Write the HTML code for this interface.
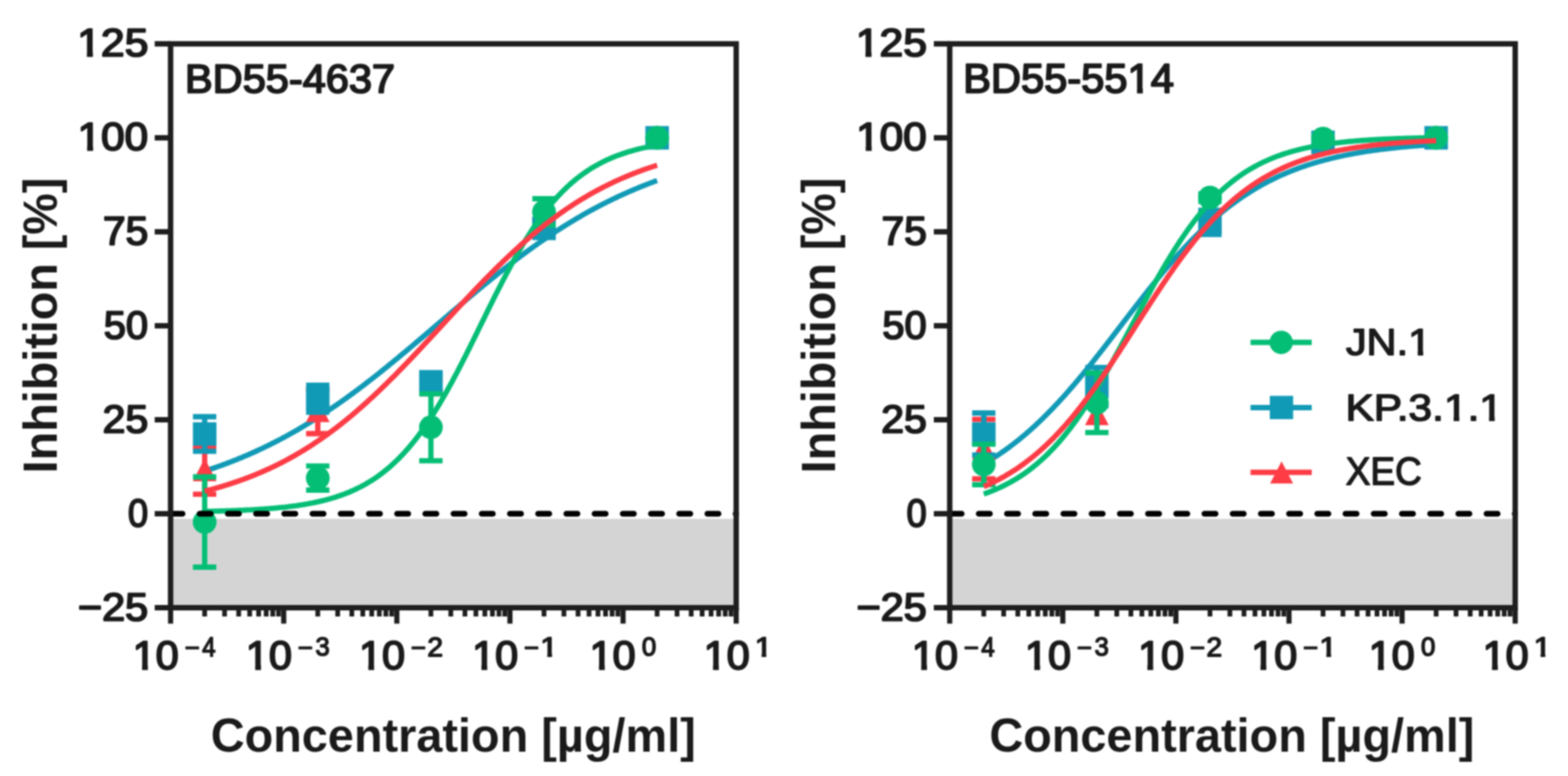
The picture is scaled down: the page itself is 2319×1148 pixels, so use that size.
<!DOCTYPE html>
<html><head><meta charset="utf-8"><style>
html,body{margin:0;padding:0;background:#fff;}
svg{display:block;}
#w{filter:blur(1.20px);width:2319px;height:1148px;overflow:hidden;}
text{font-family:'Liberation Sans',Arial,sans-serif;fill:#1a1a1a;}
</style></head><body><div id="w">
<svg width="2319" height="1148" viewBox="0 0 2319 1148">
<rect width="2319" height="1148" fill="#fff"/>
<rect x="252.3" y="767.5" width="836.5" height="131.5" fill="#d4d4d4"/>
<polyline points="302.66,696.95 304.89,696.23 307.12,695.50 309.35,694.76 311.58,694.01 313.82,693.26 316.05,692.49 318.28,691.72 320.51,690.94 322.74,690.16 324.97,689.36 327.20,688.56 329.43,687.74 331.66,686.92 333.89,686.09 336.12,685.26 338.35,684.41 340.58,683.55 342.81,682.69 345.04,681.81 347.28,680.93 349.51,680.04 351.74,679.14 353.97,678.23 356.20,677.31 358.43,676.39 360.66,675.45 362.89,674.50 365.12,673.55 367.35,672.58 369.58,671.61 371.81,670.63 374.04,669.63 376.27,668.63 378.50,667.62 380.74,666.60 382.97,665.56 385.20,664.52 387.43,663.47 389.66,662.41 391.89,661.34 394.12,660.26 396.35,659.17 398.58,658.07 400.81,656.96 403.04,655.85 405.27,654.72 407.50,653.58 409.73,652.43 411.96,651.27 414.20,650.10 416.43,648.92 418.66,647.73 420.89,646.53 423.12,645.32 425.35,644.10 427.58,642.87 429.81,641.63 432.04,640.38 434.27,639.12 436.50,637.85 438.73,636.57 440.96,635.28 443.19,633.98 445.42,632.67 447.66,631.34 449.89,630.01 452.12,628.67 454.35,627.32 456.58,625.96 458.81,624.59 461.04,623.21 463.27,621.81 465.50,620.41 467.73,619.00 469.96,617.58 472.19,616.15 474.42,614.71 476.65,613.26 478.88,611.79 481.12,610.32 483.35,608.84 485.58,607.35 487.81,605.85 490.04,604.34 492.27,602.83 494.50,601.30 496.73,599.76 498.96,598.21 501.19,596.66 503.42,595.09 505.65,593.52 507.88,591.93 510.11,590.34 512.34,588.74 514.58,587.13 516.81,585.51 519.04,583.88 521.27,582.24 523.50,580.60 525.73,578.94 527.96,577.28 530.19,575.61 532.42,573.93 534.65,572.25 536.88,570.55 539.11,568.85 541.34,567.14 543.57,565.42 545.80,563.70 548.04,561.97 550.27,560.23 552.50,558.48 554.73,556.73 556.96,554.97 559.19,553.20 561.42,551.43 563.65,549.64 565.88,547.86 568.11,546.06 570.34,544.27 572.57,542.46 574.80,540.65 577.03,538.83 579.26,537.01 581.50,535.18 583.73,533.35 585.96,531.51 588.19,529.67 590.42,527.82 592.65,525.97 594.88,524.12 597.11,522.26 599.34,520.39 601.57,518.52 603.80,516.65 606.03,514.77 608.26,512.89 610.49,511.01 612.72,509.13 614.96,507.24 617.19,505.35 619.42,503.45 621.65,501.55 623.88,499.66 626.11,497.75 628.34,495.85 630.57,493.95 632.80,492.04 635.03,490.13 637.26,488.23 639.49,486.32 641.72,484.41 643.95,482.50 646.18,480.58 648.42,478.67 650.65,476.76 652.88,474.85 655.11,472.94 657.34,471.03 659.57,469.12 661.80,467.21 664.03,465.30 666.26,463.39 668.49,461.49 670.72,459.58 672.95,457.68 675.18,455.78 677.41,453.88 679.64,451.99 681.88,450.09 684.11,448.20 686.34,446.31 688.57,444.43 690.80,442.55 693.03,440.67 695.26,438.79 697.49,436.92 699.72,435.05 701.95,433.19 704.18,431.33 706.41,429.47 708.64,427.62 710.87,425.78 713.10,423.93 715.34,422.10 717.57,420.27 719.80,418.44 722.03,416.62 724.26,414.80 726.49,412.99 728.72,411.19 730.95,409.39 733.18,407.60 735.41,405.81 737.64,404.03 739.87,402.26 742.10,400.50 744.33,398.74 746.56,396.98 748.80,395.24 751.03,393.50 753.26,391.77 755.49,390.05 757.72,388.33 759.95,386.62 762.18,384.92 764.41,383.23 766.64,381.54 768.87,379.87 771.10,378.20 773.33,376.54 775.56,374.89 777.79,373.24 780.02,371.61 782.26,369.98 784.49,368.36 786.72,366.75 788.95,365.15 791.18,363.56 793.41,361.98 795.64,360.41 797.87,358.84 800.10,357.29 802.33,355.74 804.56,354.21 806.79,352.68 809.02,351.16 811.25,349.66 813.48,348.16 815.72,346.67 817.95,345.19 820.18,343.72 822.41,342.26 824.64,340.81 826.87,339.37 829.10,337.94 831.33,336.52 833.56,335.11 835.79,333.72 838.02,332.33 840.25,330.95 842.48,329.58 844.71,328.22 846.94,326.87 849.18,325.53 851.41,324.20 853.64,322.88 855.87,321.57 858.10,320.27 860.33,318.98 862.56,317.70 864.79,316.43 867.02,315.18 869.25,313.93 871.48,312.69 873.71,311.46 875.94,310.24 878.17,309.03 880.40,307.84 882.64,306.65 884.87,305.47 887.10,304.30 889.33,303.15 891.56,302.00 893.79,300.86 896.02,299.73 898.25,298.62 900.48,297.51 902.71,296.41 904.94,295.32 907.17,294.25 909.40,293.18 911.63,292.12 913.86,291.07 916.10,290.03 918.33,289.00 920.56,287.98 922.79,286.97 925.02,285.97 927.25,284.98 929.48,284.00 931.71,283.03 933.94,282.06 936.17,281.11 938.40,280.16 940.63,279.23 942.86,278.30 945.09,277.39 947.32,276.48 949.56,275.58 951.79,274.69 954.02,273.81 956.25,272.94 958.48,272.08 960.71,271.22 962.94,270.38 965.17,269.54 967.40,268.71 969.63,267.89 971.86,267.08" fill="none" stroke="#119ab6" stroke-width="7.8" stroke-linejoin="round"/>
<path d="M302.7 662.1V731.1M285.4 662.1H319.9M285.4 731.1H319.9" stroke="#fd3c46" stroke-width="7.8" fill="none"/>
<polygon points="302.7,677.9 285.2,711.9 320.2,711.9" fill="#fd3c46"/>
<path d="M470.0 577.0V641.5M452.7 577.0H487.2M452.7 641.5H487.2" stroke="#fd3c46" stroke-width="7.8" fill="none"/>
<polygon points="470.0,590.6 452.5,624.6 487.5,624.6" fill="#fd3c46"/>
<path d="M637.3 562.6V579.3M620.0 562.6H654.5M620.0 579.3H654.5" stroke="#fd3c46" stroke-width="7.8" fill="none"/>
<polygon points="637.3,552.2 619.8,586.2 654.8,586.2" fill="#fd3c46"/>
<path d="M804.6 326.2V342.9M787.3 326.2H821.8M787.3 342.9H821.8" stroke="#fd3c46" stroke-width="7.8" fill="none"/>
<polygon points="804.6,315.9 787.1,349.9 822.1,349.9" fill="#fd3c46"/>
<polygon points="971.9,185.2 954.4,219.2 989.4,219.2" fill="#fd3c46"/>
<path d="M302.7 616.5V667.7M285.4 616.5H319.9M285.4 667.7H319.9" stroke="#119ab6" stroke-width="7.8" fill="none"/>
<rect x="285.3" y="624.7" width="34.8" height="34.8" fill="#119ab6"/>
<path d="M470.0 569.8V609.8M452.7 569.8H487.2M452.7 609.8H487.2" stroke="#119ab6" stroke-width="7.8" fill="none"/>
<rect x="452.6" y="572.4" width="34.8" height="34.8" fill="#119ab6"/>
<path d="M637.3 553.7V575.9M620.0 553.7H654.5M620.0 575.9H654.5" stroke="#119ab6" stroke-width="7.8" fill="none"/>
<rect x="619.9" y="547.4" width="34.8" height="34.8" fill="#119ab6"/>
<path d="M804.6 326.8V349.0M787.3 326.8H821.8M787.3 349.0H821.8" stroke="#119ab6" stroke-width="7.8" fill="none"/>
<rect x="787.2" y="320.5" width="34.8" height="34.8" fill="#119ab6"/>
<rect x="954.5" y="186.5" width="34.8" height="34.8" fill="#119ab6"/>
<path d="M302.7 705.5V839.0M285.4 705.5H319.9M285.4 839.0H319.9" stroke="#05be76" stroke-width="7.8" fill="none"/>
<circle cx="302.7" cy="772.2" r="17.6" fill="#05be76"/>
<path d="M470.0 689.4V725.0M452.7 689.4H487.2M452.7 725.0H487.2" stroke="#05be76" stroke-width="7.8" fill="none"/>
<circle cx="470.0" cy="707.2" r="17.6" fill="#05be76"/>
<path d="M637.3 582.6V681.6M620.0 582.6H654.5M620.0 681.6H654.5" stroke="#05be76" stroke-width="7.8" fill="none"/>
<circle cx="637.3" cy="632.1" r="17.6" fill="#05be76"/>
<path d="M804.6 294.0V332.9M787.3 294.0H821.8M787.3 332.9H821.8" stroke="#05be76" stroke-width="7.8" fill="none"/>
<circle cx="804.6" cy="313.4" r="17.6" fill="#05be76"/>
<circle cx="971.9" cy="203.9" r="17.6" fill="#05be76"/>
<polyline points="302.66,756.54 304.89,756.50 307.12,756.45 309.35,756.40 311.58,756.35 313.82,756.30 316.05,756.25 318.28,756.20 320.51,756.14 322.74,756.08 324.97,756.02 327.20,755.96 329.43,755.89 331.66,755.83 333.89,755.76 336.12,755.69 338.35,755.61 340.58,755.54 342.81,755.46 345.04,755.38 347.28,755.29 349.51,755.21 351.74,755.12 353.97,755.02 356.20,754.93 358.43,754.83 360.66,754.73 362.89,754.62 365.12,754.51 367.35,754.40 369.58,754.29 371.81,754.17 374.04,754.04 376.27,753.92 378.50,753.78 380.74,753.65 382.97,753.51 385.20,753.36 387.43,753.21 389.66,753.06 391.89,752.90 394.12,752.73 396.35,752.56 398.58,752.38 400.81,752.20 403.04,752.01 405.27,751.82 407.50,751.62 409.73,751.41 411.96,751.20 414.20,750.98 416.43,750.75 418.66,750.51 420.89,750.27 423.12,750.02 425.35,749.76 427.58,749.49 429.81,749.21 432.04,748.93 434.27,748.63 436.50,748.33 438.73,748.02 440.96,747.69 443.19,747.36 445.42,747.01 447.66,746.66 449.89,746.29 452.12,745.91 454.35,745.52 456.58,745.12 458.81,744.70 461.04,744.27 463.27,743.83 465.50,743.37 467.73,742.90 469.96,742.41 472.19,741.91 474.42,741.39 476.65,740.86 478.88,740.31 481.12,739.74 483.35,739.15 485.58,738.55 487.81,737.92 490.04,737.28 492.27,736.62 494.50,735.94 496.73,735.24 498.96,734.51 501.19,733.76 503.42,732.99 505.65,732.20 507.88,731.38 510.11,730.54 512.34,729.68 514.58,728.78 516.81,727.86 519.04,726.92 521.27,725.94 523.50,724.94 525.73,723.91 527.96,722.84 530.19,721.75 532.42,720.62 534.65,719.47 536.88,718.27 539.11,717.05 541.34,715.79 543.57,714.49 545.80,713.16 548.04,711.79 550.27,710.38 552.50,708.94 554.73,707.45 556.96,705.93 559.19,704.36 561.42,702.75 563.65,701.10 565.88,699.40 568.11,697.66 570.34,695.87 572.57,694.04 574.80,692.16 577.03,690.23 579.26,688.26 581.50,686.23 583.73,684.16 585.96,682.03 588.19,679.86 590.42,677.63 592.65,675.35 594.88,673.01 597.11,670.63 599.34,668.18 601.57,665.69 603.80,663.13 606.03,660.53 608.26,657.86 610.49,655.14 612.72,652.36 614.96,649.53 617.19,646.63 619.42,643.68 621.65,640.68 623.88,637.61 626.11,634.49 628.34,631.31 630.57,628.07 632.80,624.78 635.03,621.43 637.26,618.02 639.49,614.56 641.72,611.04 643.95,607.47 646.18,603.84 648.42,600.16 650.65,596.42 652.88,592.64 655.11,588.80 657.34,584.92 659.57,580.99 661.80,577.01 664.03,572.98 666.26,568.91 668.49,564.80 670.72,560.64 672.95,556.45 675.18,552.22 677.41,547.95 679.64,543.65 681.88,539.31 684.11,534.95 686.34,530.56 688.57,526.14 690.80,521.69 693.03,517.23 695.26,512.75 697.49,508.24 699.72,503.73 701.95,499.20 704.18,494.66 706.41,490.12 708.64,485.57 710.87,481.01 713.10,476.46 715.34,471.91 717.57,467.36 719.80,462.82 722.03,458.29 724.26,453.77 726.49,449.27 728.72,444.78 730.95,440.31 733.18,435.86 735.41,431.44 737.64,427.04 739.87,422.67 742.10,418.33 744.33,414.02 746.56,409.74 748.80,405.50 751.03,401.30 753.26,397.14 755.49,393.02 757.72,388.94 759.95,384.90 762.18,380.91 764.41,376.97 766.64,373.08 768.87,369.23 771.10,365.43 773.33,361.69 775.56,358.00 777.79,354.36 780.02,350.77 782.26,347.24 784.49,343.77 786.72,340.35 788.95,336.99 791.18,333.68 793.41,330.43 795.64,327.24 797.87,324.11 800.10,321.03 802.33,318.01 804.56,315.05 806.79,312.14 809.02,309.30 811.25,306.51 813.48,303.77 815.72,301.10 817.95,298.48 820.18,295.91 822.41,293.41 824.64,290.95 826.87,288.55 829.10,286.21 831.33,283.91 833.56,281.68 835.79,279.49 838.02,277.35 840.25,275.27 842.48,273.23 844.71,271.25 846.94,269.31 849.18,267.42 851.41,265.58 853.64,263.78 855.87,262.03 858.10,260.33 860.33,258.66 862.56,257.05 864.79,255.47 867.02,253.93 869.25,252.44 871.48,250.99 873.71,249.57 875.94,248.19 878.17,246.85 880.40,245.55 882.64,244.28 884.87,243.05 887.10,241.85 889.33,240.69 891.56,239.55 893.79,238.45 896.02,237.38 898.25,236.34 900.48,235.33 902.71,234.35 904.94,233.40 907.17,232.48 909.40,231.58 911.63,230.71 913.86,229.86 916.10,229.04 918.33,228.24 920.56,227.47 922.79,226.71 925.02,225.98 927.25,225.28 929.48,224.59 931.71,223.92 933.94,223.28 936.17,222.65 938.40,222.04 940.63,221.45 942.86,220.88 945.09,220.33 947.32,219.79 949.56,219.27 951.79,218.76 954.02,218.27 956.25,217.80 958.48,217.34 960.71,216.89 962.94,216.46 965.17,216.04 967.40,215.63 969.63,215.24 971.86,214.86" fill="none" stroke="#05be76" stroke-width="7.8" stroke-linejoin="round"/>
<polyline points="302.66,726.60 304.89,726.03 307.12,725.46 309.35,724.88 311.58,724.29 313.82,723.69 316.05,723.08 318.28,722.46 320.51,721.83 322.74,721.20 324.97,720.55 327.20,719.89 329.43,719.23 331.66,718.55 333.89,717.87 336.12,717.17 338.35,716.47 340.58,715.75 342.81,715.02 345.04,714.29 347.28,713.54 349.51,712.78 351.74,712.01 353.97,711.23 356.20,710.44 358.43,709.63 360.66,708.82 362.89,707.99 365.12,707.16 367.35,706.31 369.58,705.45 371.81,704.57 374.04,703.69 376.27,702.79 378.50,701.88 380.74,700.96 382.97,700.02 385.20,699.07 387.43,698.11 389.66,697.14 391.89,696.15 394.12,695.15 396.35,694.14 398.58,693.11 400.81,692.07 403.04,691.02 405.27,689.95 407.50,688.87 409.73,687.78 411.96,686.67 414.20,685.54 416.43,684.41 418.66,683.25 420.89,682.09 423.12,680.91 425.35,679.71 427.58,678.50 429.81,677.27 432.04,676.03 434.27,674.78 436.50,673.51 438.73,672.22 440.96,670.92 443.19,669.60 445.42,668.27 447.66,666.93 449.89,665.56 452.12,664.18 454.35,662.79 456.58,661.38 458.81,659.96 461.04,658.51 463.27,657.06 465.50,655.58 467.73,654.10 469.96,652.59 472.19,651.07 474.42,649.53 476.65,647.98 478.88,646.41 481.12,644.82 483.35,643.22 485.58,641.61 487.81,639.97 490.04,638.32 492.27,636.66 494.50,634.97 496.73,633.28 498.96,631.56 501.19,629.83 503.42,628.09 505.65,626.33 507.88,624.55 510.11,622.75 512.34,620.94 514.58,619.12 516.81,617.28 519.04,615.42 521.27,613.55 523.50,611.66 525.73,609.76 527.96,607.84 530.19,605.91 532.42,603.96 534.65,602.00 536.88,600.02 539.11,598.03 541.34,596.03 543.57,594.01 545.80,591.97 548.04,589.92 550.27,587.86 552.50,585.78 554.73,583.70 556.96,581.59 559.19,579.48 561.42,577.35 563.65,575.21 565.88,573.05 568.11,570.89 570.34,568.71 572.57,566.52 574.80,564.32 577.03,562.10 579.26,559.88 581.50,557.64 583.73,555.40 585.96,553.14 588.19,550.87 590.42,548.60 592.65,546.31 594.88,544.02 597.11,541.71 599.34,539.40 601.57,537.08 603.80,534.75 606.03,532.41 608.26,530.07 610.49,527.72 612.72,525.36 614.96,523.00 617.19,520.63 619.42,518.25 621.65,515.87 623.88,513.48 626.11,511.09 628.34,508.69 630.57,506.29 632.80,503.89 635.03,501.48 637.26,499.07 639.49,496.65 641.72,494.24 643.95,491.82 646.18,489.40 648.42,486.98 650.65,484.56 652.88,482.14 655.11,479.71 657.34,477.29 659.57,474.87 661.80,472.45 664.03,470.03 666.26,467.61 668.49,465.19 670.72,462.78 672.95,460.37 675.18,457.96 677.41,455.55 679.64,453.15 681.88,450.76 684.11,448.36 686.34,445.98 688.57,443.59 690.80,441.22 693.03,438.84 695.26,436.48 697.49,434.12 699.72,431.77 701.95,429.42 704.18,427.09 706.41,424.76 708.64,422.43 710.87,420.12 713.10,417.81 715.34,415.52 717.57,413.23 719.80,410.95 722.03,408.69 724.26,406.43 726.49,404.18 728.72,401.95 730.95,399.72 733.18,397.51 735.41,395.30 737.64,393.11 739.87,390.93 742.10,388.76 744.33,386.61 746.56,384.46 748.80,382.33 751.03,380.22 753.26,378.11 755.49,376.02 757.72,373.94 759.95,371.88 762.18,369.83 764.41,367.79 766.64,365.77 768.87,363.76 771.10,361.77 773.33,359.79 775.56,357.82 777.79,355.87 780.02,353.94 782.26,352.02 784.49,350.11 786.72,348.23 788.95,346.35 791.18,344.49 793.41,342.65 795.64,340.82 797.87,339.01 800.10,337.22 802.33,335.44 804.56,333.67 806.79,331.92 809.02,330.19 811.25,328.48 813.48,326.78 815.72,325.09 817.95,323.42 820.18,321.77 822.41,320.14 824.64,318.52 826.87,316.91 829.10,315.33 831.33,313.75 833.56,312.20 835.79,310.66 838.02,309.14 840.25,307.63 842.48,306.14 844.71,304.66 846.94,303.20 849.18,301.76 851.41,300.33 853.64,298.92 855.87,297.53 858.10,296.15 860.33,294.78 862.56,293.43 864.79,292.10 867.02,290.78 869.25,289.48 871.48,288.19 873.71,286.92 875.94,285.66 878.17,284.42 880.40,283.19 882.64,281.98 884.87,280.78 887.10,279.60 889.33,278.43 891.56,277.27 893.79,276.13 896.02,275.01 898.25,273.90 900.48,272.80 902.71,271.72 904.94,270.65 907.17,269.59 909.40,268.55 911.63,267.52 913.86,266.51 916.10,265.50 918.33,264.52 920.56,263.54 922.79,262.58 925.02,261.63 927.25,260.69 929.48,259.77 931.71,258.86 933.94,257.96 936.17,257.07 938.40,256.20 940.63,255.33 942.86,254.48 945.09,253.64 947.32,252.81 949.56,252.00 951.79,251.19 954.02,250.40 956.25,249.62 958.48,248.85 960.71,248.09 962.94,247.34 965.17,246.60 967.40,245.87 969.63,245.15 971.86,244.45" fill="none" stroke="#fd3c46" stroke-width="7.8" stroke-linejoin="round"/>
<line x1="253.50" y1="760.00" x2="1088.80" y2="760.00" stroke="#000" stroke-width="8.5" stroke-linecap="round" stroke-dasharray="16.5 25.22"/>
<rect x="252.30" y="64.84" width="836.50" height="834.20" fill="none" stroke="#1e1e1e" stroke-width="8.0"/>
<line x1="228.8" y1="64.84" x2="252.3" y2="64.84" stroke="#1e1e1e" stroke-width="8.0"/>
<line x1="228.8" y1="203.87" x2="252.3" y2="203.87" stroke="#1e1e1e" stroke-width="8.0"/>
<line x1="228.8" y1="342.90" x2="252.3" y2="342.90" stroke="#1e1e1e" stroke-width="8.0"/>
<line x1="228.8" y1="481.94" x2="252.3" y2="481.94" stroke="#1e1e1e" stroke-width="8.0"/>
<line x1="228.8" y1="620.97" x2="252.3" y2="620.97" stroke="#1e1e1e" stroke-width="8.0"/>
<line x1="228.8" y1="760.00" x2="252.3" y2="760.00" stroke="#1e1e1e" stroke-width="8.0"/>
<line x1="228.8" y1="899.03" x2="252.3" y2="899.03" stroke="#1e1e1e" stroke-width="8.0"/>
<line x1="252.30" y1="899.0" x2="252.30" y2="922.6" stroke="#1e1e1e" stroke-width="7.6"/>
<line x1="302.66" y1="899.0" x2="302.66" y2="912.0" stroke="#1e1e1e" stroke-width="7"/>
<line x1="332.12" y1="899.0" x2="332.12" y2="912.0" stroke="#1e1e1e" stroke-width="7"/>
<line x1="353.02" y1="899.0" x2="353.02" y2="912.0" stroke="#1e1e1e" stroke-width="7"/>
<line x1="369.24" y1="899.0" x2="369.24" y2="912.0" stroke="#1e1e1e" stroke-width="7"/>
<line x1="382.48" y1="899.0" x2="382.48" y2="912.0" stroke="#1e1e1e" stroke-width="7"/>
<line x1="393.68" y1="899.0" x2="393.68" y2="912.0" stroke="#1e1e1e" stroke-width="7"/>
<line x1="403.39" y1="899.0" x2="403.39" y2="912.0" stroke="#1e1e1e" stroke-width="7"/>
<line x1="411.94" y1="899.0" x2="411.94" y2="912.0" stroke="#1e1e1e" stroke-width="7"/>
<line x1="419.60" y1="899.0" x2="419.60" y2="922.6" stroke="#1e1e1e" stroke-width="7.6"/>
<line x1="469.96" y1="899.0" x2="469.96" y2="912.0" stroke="#1e1e1e" stroke-width="7"/>
<line x1="499.42" y1="899.0" x2="499.42" y2="912.0" stroke="#1e1e1e" stroke-width="7"/>
<line x1="520.32" y1="899.0" x2="520.32" y2="912.0" stroke="#1e1e1e" stroke-width="7"/>
<line x1="536.54" y1="899.0" x2="536.54" y2="912.0" stroke="#1e1e1e" stroke-width="7"/>
<line x1="549.78" y1="899.0" x2="549.78" y2="912.0" stroke="#1e1e1e" stroke-width="7"/>
<line x1="560.98" y1="899.0" x2="560.98" y2="912.0" stroke="#1e1e1e" stroke-width="7"/>
<line x1="570.69" y1="899.0" x2="570.69" y2="912.0" stroke="#1e1e1e" stroke-width="7"/>
<line x1="579.24" y1="899.0" x2="579.24" y2="912.0" stroke="#1e1e1e" stroke-width="7"/>
<line x1="586.90" y1="899.0" x2="586.90" y2="922.6" stroke="#1e1e1e" stroke-width="7.6"/>
<line x1="637.26" y1="899.0" x2="637.26" y2="912.0" stroke="#1e1e1e" stroke-width="7"/>
<line x1="666.72" y1="899.0" x2="666.72" y2="912.0" stroke="#1e1e1e" stroke-width="7"/>
<line x1="687.62" y1="899.0" x2="687.62" y2="912.0" stroke="#1e1e1e" stroke-width="7"/>
<line x1="703.84" y1="899.0" x2="703.84" y2="912.0" stroke="#1e1e1e" stroke-width="7"/>
<line x1="717.08" y1="899.0" x2="717.08" y2="912.0" stroke="#1e1e1e" stroke-width="7"/>
<line x1="728.28" y1="899.0" x2="728.28" y2="912.0" stroke="#1e1e1e" stroke-width="7"/>
<line x1="737.99" y1="899.0" x2="737.99" y2="912.0" stroke="#1e1e1e" stroke-width="7"/>
<line x1="746.54" y1="899.0" x2="746.54" y2="912.0" stroke="#1e1e1e" stroke-width="7"/>
<line x1="754.20" y1="899.0" x2="754.20" y2="922.6" stroke="#1e1e1e" stroke-width="7.6"/>
<line x1="804.56" y1="899.0" x2="804.56" y2="912.0" stroke="#1e1e1e" stroke-width="7"/>
<line x1="834.02" y1="899.0" x2="834.02" y2="912.0" stroke="#1e1e1e" stroke-width="7"/>
<line x1="854.92" y1="899.0" x2="854.92" y2="912.0" stroke="#1e1e1e" stroke-width="7"/>
<line x1="871.14" y1="899.0" x2="871.14" y2="912.0" stroke="#1e1e1e" stroke-width="7"/>
<line x1="884.38" y1="899.0" x2="884.38" y2="912.0" stroke="#1e1e1e" stroke-width="7"/>
<line x1="895.58" y1="899.0" x2="895.58" y2="912.0" stroke="#1e1e1e" stroke-width="7"/>
<line x1="905.29" y1="899.0" x2="905.29" y2="912.0" stroke="#1e1e1e" stroke-width="7"/>
<line x1="913.84" y1="899.0" x2="913.84" y2="912.0" stroke="#1e1e1e" stroke-width="7"/>
<line x1="921.50" y1="899.0" x2="921.50" y2="922.6" stroke="#1e1e1e" stroke-width="7.6"/>
<line x1="971.86" y1="899.0" x2="971.86" y2="912.0" stroke="#1e1e1e" stroke-width="7"/>
<line x1="1001.32" y1="899.0" x2="1001.32" y2="912.0" stroke="#1e1e1e" stroke-width="7"/>
<line x1="1022.22" y1="899.0" x2="1022.22" y2="912.0" stroke="#1e1e1e" stroke-width="7"/>
<line x1="1038.44" y1="899.0" x2="1038.44" y2="912.0" stroke="#1e1e1e" stroke-width="7"/>
<line x1="1051.68" y1="899.0" x2="1051.68" y2="912.0" stroke="#1e1e1e" stroke-width="7"/>
<line x1="1062.88" y1="899.0" x2="1062.88" y2="912.0" stroke="#1e1e1e" stroke-width="7"/>
<line x1="1072.59" y1="899.0" x2="1072.59" y2="912.0" stroke="#1e1e1e" stroke-width="7"/>
<line x1="1081.14" y1="899.0" x2="1081.14" y2="912.0" stroke="#1e1e1e" stroke-width="7"/>
<line x1="1088.80" y1="899.0" x2="1088.80" y2="922.6" stroke="#1e1e1e" stroke-width="7.6"/>
<g transform="translate(114.34 83.46) scale(1.0908 1)"><text font-size="57.75" font-weight="normal" stroke="#1a1a1a" stroke-width="2.60" stroke-linejoin="round">125</text>
<rect x="1.90" y="-7.21" width="11.07" height="9.71" fill="#fff"/>
<rect x="21.17" y="-7.21" width="10.62" height="9.71" fill="#fff"/>
</g>
<g transform="translate(114.79 222.49) scale(1.0827 1)"><text font-size="57.75" font-weight="normal" stroke="#1a1a1a" stroke-width="2.60" stroke-linejoin="round">100</text>
<rect x="1.90" y="-7.21" width="11.07" height="9.71" fill="#fff"/>
<rect x="21.17" y="-7.21" width="10.62" height="9.71" fill="#fff"/>
</g>
<text transform="translate(152.19 361.52) scale(1.0294 1)" font-size="58.57" font-weight="normal" stroke="#1a1a1a" stroke-width="2.60" stroke-linejoin="round">75</text>
<text transform="translate(153.55 500.56) scale(1.0173 1)" font-size="57.75" font-weight="normal" stroke="#1a1a1a" stroke-width="2.60" stroke-linejoin="round">50</text>
<text transform="translate(151.77 639.59) scale(1.0509 1)" font-size="57.75" font-weight="normal" stroke="#1a1a1a" stroke-width="2.60" stroke-linejoin="round">25</text>
<text transform="translate(189.16 778.62) scale(0.9260 1)" font-size="57.75" font-weight="normal" stroke="#1a1a1a" stroke-width="2.60" stroke-linejoin="round">0</text>
<text transform="translate(115.23 917.66) scale(1.0617 1)" font-size="57.75" font-weight="normal" stroke="#1a1a1a" stroke-width="2.60" stroke-linejoin="round">−25</text>
<g transform="translate(196.31 990.31) scale(1.0370 1)"><text font-size="59.01" font-weight="normal" stroke="#1a1a1a" stroke-width="2.60" stroke-linejoin="round">10</text>
<rect x="2.00" y="-7.31" width="11.30" height="9.81" fill="#fff"/>
<rect x="21.60" y="-7.31" width="10.83" height="9.81" fill="#fff"/>
</g>
<text transform="translate(272.96 971.50) scale(0.9454 1)" font-size="41.00" font-weight="normal" stroke="#1a1a1a" stroke-width="1.60" stroke-linejoin="round">−</text>
<text transform="translate(298.91 970.50) scale(0.8760 1)" font-size="40.87" font-weight="normal" stroke="#1a1a1a" stroke-width="2.00" stroke-linejoin="round">4</text>
<g transform="translate(363.61 990.31) scale(1.0370 1)"><text font-size="59.01" font-weight="normal" stroke="#1a1a1a" stroke-width="2.60" stroke-linejoin="round">10</text>
<rect x="2.00" y="-7.31" width="11.30" height="9.81" fill="#fff"/>
<rect x="21.60" y="-7.31" width="10.83" height="9.81" fill="#fff"/>
</g>
<text transform="translate(440.26 971.50) scale(0.9454 1)" font-size="41.00" font-weight="normal" stroke="#1a1a1a" stroke-width="1.60" stroke-linejoin="round">−</text>
<text transform="translate(466.58 970.10) scale(0.9589 1)" font-size="39.72" font-weight="normal" stroke="#1a1a1a" stroke-width="2.00" stroke-linejoin="round">3</text>
<g transform="translate(530.91 990.31) scale(1.0370 1)"><text font-size="59.01" font-weight="normal" stroke="#1a1a1a" stroke-width="2.60" stroke-linejoin="round">10</text>
<rect x="2.00" y="-7.31" width="11.30" height="9.81" fill="#fff"/>
<rect x="21.60" y="-7.31" width="10.83" height="9.81" fill="#fff"/>
</g>
<text transform="translate(607.56 971.50) scale(0.9454 1)" font-size="41.00" font-weight="normal" stroke="#1a1a1a" stroke-width="1.60" stroke-linejoin="round">−</text>
<text transform="translate(632.11 970.50) scale(1.0366 1)" font-size="40.29" font-weight="normal" stroke="#1a1a1a" stroke-width="2.00" stroke-linejoin="round">2</text>
<g transform="translate(698.21 990.31) scale(1.0370 1)"><text font-size="59.01" font-weight="normal" stroke="#1a1a1a" stroke-width="2.60" stroke-linejoin="round">10</text>
<rect x="2.00" y="-7.31" width="11.30" height="9.81" fill="#fff"/>
<rect x="21.60" y="-7.31" width="10.83" height="9.81" fill="#fff"/>
</g>
<text transform="translate(774.86 971.50) scale(0.9454 1)" font-size="41.00" font-weight="normal" stroke="#1a1a1a" stroke-width="1.60" stroke-linejoin="round">−</text>
<g transform="translate(799.10 970.50) scale(1.1451 1)"><text font-size="40.87" font-weight="normal" stroke="#1a1a1a" stroke-width="2.00" stroke-linejoin="round">1</text>
<rect x="0.91" y="-5.65" width="8.11" height="7.85" fill="#fff"/>
<rect x="15.14" y="-5.65" width="7.80" height="7.85" fill="#fff"/>
</g>
<g transform="translate(872.01 990.31) scale(1.0370 1)"><text font-size="59.01" font-weight="normal" stroke="#1a1a1a" stroke-width="2.60" stroke-linejoin="round">10</text>
<rect x="2.00" y="-7.31" width="11.30" height="9.81" fill="#fff"/>
<rect x="21.60" y="-7.31" width="10.83" height="9.81" fill="#fff"/>
</g>
<text transform="translate(949.27 970.10) scale(0.9647 1)" font-size="39.72" font-weight="normal" stroke="#1a1a1a" stroke-width="2.00" stroke-linejoin="round">0</text>
<g transform="translate(1040.71 990.31) scale(1.0370 1)"><text font-size="59.01" font-weight="normal" stroke="#1a1a1a" stroke-width="2.60" stroke-linejoin="round">10</text>
<rect x="2.00" y="-7.31" width="11.30" height="9.81" fill="#fff"/>
<rect x="21.60" y="-7.31" width="10.83" height="9.81" fill="#fff"/>
</g>
<g transform="translate(1116.14 970.50) scale(1.1350 1)"><text font-size="40.87" font-weight="normal" stroke="#1a1a1a" stroke-width="2.00" stroke-linejoin="round">1</text>
<rect x="0.91" y="-5.65" width="8.11" height="7.85" fill="#fff"/>
<rect x="15.14" y="-5.65" width="7.80" height="7.85" fill="#fff"/>
</g>
<text transform="translate(311.63 1112.00) scale(0.9900 1)" font-size="70.00" font-weight="bold">Concentration [µg/ml]</text>
<rect x="1404.6" y="767.5" width="836.3" height="131.5" fill="#d4d4d4"/>
<polyline points="1454.95,686.28 1457.18,684.99 1459.41,683.67 1461.64,682.34 1463.87,680.98 1466.10,679.60 1468.33,678.20 1470.56,676.78 1472.79,675.34 1475.02,673.87 1477.25,672.38 1479.48,670.87 1481.71,669.34 1483.94,667.79 1486.17,666.21 1488.40,664.61 1490.63,662.99 1492.86,661.35 1495.09,659.68 1497.32,657.99 1499.55,656.27 1501.78,654.53 1504.01,652.77 1506.24,650.99 1508.47,649.18 1510.70,647.35 1512.93,645.49 1515.16,643.61 1517.39,641.71 1519.62,639.78 1521.85,637.83 1524.08,635.85 1526.31,633.85 1528.54,631.83 1530.77,629.78 1533.00,627.71 1535.24,625.62 1537.47,623.50 1539.70,621.36 1541.93,619.20 1544.16,617.01 1546.39,614.80 1548.62,612.56 1550.85,610.31 1553.08,608.03 1555.31,605.73 1557.54,603.40 1559.77,601.06 1562.00,598.69 1564.23,596.30 1566.46,593.89 1568.69,591.46 1570.92,589.00 1573.15,586.53 1575.38,584.04 1577.61,581.52 1579.84,578.99 1582.07,576.44 1584.30,573.87 1586.53,571.28 1588.76,568.67 1590.99,566.05 1593.22,563.40 1595.45,560.74 1597.68,558.07 1599.91,555.38 1602.14,552.67 1604.37,549.95 1606.60,547.21 1608.83,544.46 1611.06,541.69 1613.29,538.92 1615.52,536.13 1617.75,533.32 1619.98,530.51 1622.21,527.69 1624.44,524.85 1626.67,522.01 1628.90,519.16 1631.13,516.30 1633.36,513.43 1635.59,510.55 1637.82,507.67 1640.05,504.78 1642.28,501.89 1644.51,498.99 1646.74,496.09 1648.97,493.19 1651.20,490.28 1653.43,487.37 1655.66,484.46 1657.89,481.55 1660.12,478.63 1662.35,475.72 1664.58,472.81 1666.81,469.91 1669.04,467.00 1671.27,464.10 1673.50,461.20 1675.73,458.31 1677.96,455.42 1680.19,452.54 1682.42,449.66 1684.65,446.79 1686.88,443.93 1689.11,441.08 1691.34,438.23 1693.57,435.40 1695.80,432.57 1698.03,429.76 1700.26,426.96 1702.50,424.16 1704.73,421.39 1706.96,418.62 1709.19,415.87 1711.42,413.13 1713.65,410.41 1715.88,407.70 1718.11,405.00 1720.34,402.33 1722.57,399.67 1724.80,397.02 1727.03,394.39 1729.26,391.79 1731.49,389.19 1733.72,386.62 1735.95,384.07 1738.18,381.53 1740.41,379.02 1742.64,376.52 1744.87,374.05 1747.10,371.59 1749.33,369.16 1751.56,366.75 1753.79,364.35 1756.02,361.98 1758.25,359.64 1760.48,357.31 1762.71,355.01 1764.94,352.73 1767.17,350.47 1769.40,348.23 1771.63,346.02 1773.86,343.83 1776.09,341.66 1778.32,339.52 1780.55,337.40 1782.78,335.31 1785.01,333.23 1787.24,331.18 1789.47,329.16 1791.70,327.16 1793.93,325.18 1796.16,323.23 1798.39,321.30 1800.62,319.39 1802.85,317.51 1805.08,315.65 1807.31,313.82 1809.54,312.01 1811.77,310.22 1814.00,308.45 1816.23,306.71 1818.46,305.00 1820.69,303.30 1822.92,301.63 1825.15,299.99 1827.38,298.36 1829.61,296.76 1831.84,295.18 1834.07,293.63 1836.30,292.09 1838.53,290.58 1840.76,289.09 1842.99,287.63 1845.22,286.18 1847.45,284.76 1849.68,283.36 1851.91,281.97 1854.14,280.62 1856.37,279.28 1858.60,277.96 1860.83,276.66 1863.06,275.39 1865.29,274.13 1867.52,272.89 1869.76,271.68 1871.99,270.48 1874.22,269.30 1876.45,268.15 1878.68,267.01 1880.91,265.89 1883.14,264.79 1885.37,263.70 1887.60,262.64 1889.83,261.59 1892.06,260.56 1894.29,259.55 1896.52,258.55 1898.75,257.58 1900.98,256.61 1903.21,255.67 1905.44,254.74 1907.67,253.83 1909.90,252.93 1912.13,252.05 1914.36,251.19 1916.59,250.34 1918.82,249.51 1921.05,248.69 1923.28,247.88 1925.51,247.09 1927.74,246.32 1929.97,245.55 1932.20,244.81 1934.43,244.07 1936.66,243.35 1938.89,242.64 1941.12,241.95 1943.35,241.26 1945.58,240.59 1947.81,239.94 1950.04,239.29 1952.27,238.66 1954.50,238.04 1956.73,237.43 1958.96,236.83 1961.19,236.24 1963.42,235.67 1965.65,235.10 1967.88,234.55 1970.11,234.00 1972.34,233.47 1974.57,232.95 1976.80,232.43 1979.03,231.93 1981.26,231.44 1983.49,230.95 1985.72,230.48 1987.95,230.01 1990.18,229.55 1992.41,229.10 1994.64,228.66 1996.87,228.23 1999.10,227.81 2001.33,227.40 2003.56,226.99 2005.79,226.59 2008.02,226.20 2010.25,225.82 2012.48,225.44 2014.71,225.08 2016.94,224.71 2019.17,224.36 2021.40,224.01 2023.63,223.67 2025.86,223.34 2028.09,223.02 2030.32,222.70 2032.55,222.38 2034.78,222.07 2037.02,221.77 2039.25,221.48 2041.48,221.19 2043.71,220.90 2045.94,220.63 2048.17,220.35 2050.40,220.09 2052.63,219.83 2054.86,219.57 2057.09,219.32 2059.32,219.07 2061.55,218.83 2063.78,218.59 2066.01,218.36 2068.24,218.14 2070.47,217.91 2072.70,217.70 2074.93,217.48 2077.16,217.27 2079.39,217.07 2081.62,216.87 2083.85,216.67 2086.08,216.48 2088.31,216.29 2090.54,216.11 2092.77,215.92 2095.00,215.75 2097.23,215.57 2099.46,215.40 2101.69,215.24 2103.92,215.07 2106.15,214.91 2108.38,214.76 2110.61,214.60 2112.84,214.45 2115.07,214.31 2117.30,214.16 2119.53,214.02 2121.76,213.88 2123.99,213.75" fill="none" stroke="#119ab6" stroke-width="7.8" stroke-linejoin="round"/>
<path d="M1455.0 620.4V708.3M1437.7 620.4H1472.2M1437.7 708.3H1472.2" stroke="#fd3c46" stroke-width="7.8" fill="none"/>
<polygon points="1455.0,645.6 1437.5,679.6 1472.5,679.6" fill="#fd3c46"/>
<polygon points="1622.2,595.0 1604.7,629.0 1639.7,629.0" fill="#fd3c46"/>
<path d="M1789.5 315.1V337.3M1772.2 315.1H1806.7M1772.2 337.3H1806.7" stroke="#fd3c46" stroke-width="7.8" fill="none"/>
<polygon points="1789.5,307.5 1772.0,341.5 1807.0,341.5" fill="#fd3c46"/>
<polygon points="1956.7,190.7 1939.2,224.7 1974.2,224.7" fill="#fd3c46"/>
<polygon points="2124.0,185.2 2106.5,219.2 2141.5,219.2" fill="#fd3c46"/>
<path d="M1455.0 611.0V673.2M1437.7 611.0H1472.2M1437.7 673.2H1472.2" stroke="#119ab6" stroke-width="7.8" fill="none"/>
<rect x="1437.6" y="624.7" width="34.8" height="34.8" fill="#119ab6"/>
<path d="M1622.2 543.7V600.4M1605.0 543.7H1639.5M1605.0 600.4H1639.5" stroke="#119ab6" stroke-width="7.8" fill="none"/>
<rect x="1604.8" y="554.6" width="34.8" height="34.8" fill="#119ab6"/>
<path d="M1789.5 311.2V346.8M1772.2 311.2H1806.7M1772.2 346.8H1806.7" stroke="#119ab6" stroke-width="7.8" fill="none"/>
<rect x="1772.1" y="311.6" width="34.8" height="34.8" fill="#119ab6"/>
<rect x="1939.3" y="193.1" width="34.8" height="34.8" fill="#119ab6"/>
<rect x="2106.6" y="186.5" width="34.8" height="34.8" fill="#119ab6"/>
<path d="M1455.0 657.1V717.2M1437.7 657.1H1472.2M1437.7 717.2H1472.2" stroke="#05be76" stroke-width="7.8" fill="none"/>
<circle cx="1455.0" cy="687.1" r="17.6" fill="#05be76"/>
<path d="M1622.2 552.0V639.9M1605.0 552.0H1639.5M1605.0 639.9H1639.5" stroke="#05be76" stroke-width="7.8" fill="none"/>
<circle cx="1622.2" cy="595.9" r="17.6" fill="#05be76"/>
<path d="M1789.5 286.7V297.9M1772.2 286.7H1806.7M1772.2 297.9H1806.7" stroke="#05be76" stroke-width="7.8" fill="none"/>
<circle cx="1789.5" cy="292.3" r="17.6" fill="#05be76"/>
<circle cx="1956.7" cy="205.0" r="17.6" fill="#05be76"/>
<circle cx="2124.0" cy="203.9" r="17.6" fill="#05be76"/>
<polyline points="1454.95,730.85 1457.18,730.07 1459.41,729.26 1461.64,728.43 1463.87,727.58 1466.10,726.71 1468.33,725.81 1470.56,724.88 1472.79,723.94 1475.02,722.96 1477.25,721.96 1479.48,720.94 1481.71,719.89 1483.94,718.81 1486.17,717.70 1488.40,716.56 1490.63,715.39 1492.86,714.19 1495.09,712.96 1497.32,711.70 1499.55,710.41 1501.78,709.08 1504.01,707.73 1506.24,706.33 1508.47,704.90 1510.70,703.44 1512.93,701.94 1515.16,700.41 1517.39,698.83 1519.62,697.22 1521.85,695.57 1524.08,693.89 1526.31,692.16 1528.54,690.39 1530.77,688.58 1533.00,686.73 1535.24,684.84 1537.47,682.90 1539.70,680.92 1541.93,678.90 1544.16,676.84 1546.39,674.72 1548.62,672.57 1550.85,670.37 1553.08,668.12 1555.31,665.82 1557.54,663.48 1559.77,661.09 1562.00,658.66 1564.23,656.18 1566.46,653.64 1568.69,651.06 1570.92,648.44 1573.15,645.76 1575.38,643.03 1577.61,640.26 1579.84,637.44 1582.07,634.57 1584.30,631.65 1586.53,628.68 1588.76,625.66 1590.99,622.59 1593.22,619.48 1595.45,616.32 1597.68,613.11 1599.91,609.86 1602.14,606.56 1604.37,603.21 1606.60,599.82 1608.83,596.38 1611.06,592.90 1613.29,589.38 1615.52,585.82 1617.75,582.21 1619.98,578.56 1622.21,574.88 1624.44,571.15 1626.67,567.39 1628.90,563.60 1631.13,559.76 1633.36,555.90 1635.59,552.00 1637.82,548.08 1640.05,544.12 1642.28,540.13 1644.51,536.12 1646.74,532.09 1648.97,528.03 1651.20,523.95 1653.43,519.85 1655.66,515.74 1657.89,511.60 1660.12,507.46 1662.35,503.30 1664.58,499.13 1666.81,494.95 1669.04,490.77 1671.27,486.58 1673.50,482.38 1675.73,478.19 1677.96,474.00 1680.19,469.81 1682.42,465.62 1684.65,461.44 1686.88,457.27 1689.11,453.11 1691.34,448.96 1693.57,444.83 1695.80,440.71 1698.03,436.61 1700.26,432.53 1702.50,428.47 1704.73,424.43 1706.96,420.41 1709.19,416.43 1711.42,412.47 1713.65,408.54 1715.88,404.63 1718.11,400.77 1720.34,396.93 1722.57,393.13 1724.80,389.36 1727.03,385.63 1729.26,381.94 1731.49,378.29 1733.72,374.68 1735.95,371.11 1738.18,367.58 1740.41,364.10 1742.64,360.66 1744.87,357.26 1747.10,353.91 1749.33,350.60 1751.56,347.34 1753.79,344.13 1756.02,340.96 1758.25,337.84 1760.48,334.77 1762.71,331.75 1764.94,328.77 1767.17,325.85 1769.40,322.97 1771.63,320.14 1773.86,317.36 1776.09,314.63 1778.32,311.95 1780.55,309.31 1782.78,306.73 1785.01,304.19 1787.24,301.70 1789.47,299.26 1791.70,296.86 1793.93,294.52 1796.16,292.22 1798.39,289.96 1800.62,287.75 1802.85,285.59 1805.08,283.48 1807.31,281.40 1809.54,279.38 1811.77,277.39 1814.00,275.45 1816.23,273.55 1818.46,271.70 1820.69,269.88 1822.92,268.11 1825.15,266.38 1827.38,264.68 1829.61,263.03 1831.84,261.42 1834.07,259.84 1836.30,258.30 1838.53,256.79 1840.76,255.33 1842.99,253.89 1845.22,252.50 1847.45,251.13 1849.68,249.80 1851.91,248.51 1854.14,247.24 1856.37,246.01 1858.60,244.81 1860.83,243.64 1863.06,242.50 1865.29,241.38 1867.52,240.30 1869.76,239.24 1871.99,238.21 1874.22,237.21 1876.45,236.23 1878.68,235.28 1880.91,234.36 1883.14,233.46 1885.37,232.58 1887.60,231.72 1889.83,230.89 1892.06,230.08 1894.29,229.30 1896.52,228.53 1898.75,227.78 1900.98,227.06 1903.21,226.35 1905.44,225.67 1907.67,225.00 1909.90,224.35 1912.13,223.72 1914.36,223.10 1916.59,222.50 1918.82,221.92 1921.05,221.36 1923.28,220.81 1925.51,220.27 1927.74,219.75 1929.97,219.25 1932.20,218.76 1934.43,218.28 1936.66,217.82 1938.89,217.37 1941.12,216.93 1943.35,216.51 1945.58,216.09 1947.81,215.69 1950.04,215.30 1952.27,214.92 1954.50,214.55 1956.73,214.19 1958.96,213.85 1961.19,213.51 1963.42,213.18 1965.65,212.86 1967.88,212.55 1970.11,212.25 1972.34,211.96 1974.57,211.67 1976.80,211.40 1979.03,211.13 1981.26,210.87 1983.49,210.62 1985.72,210.37 1987.95,210.13 1990.18,209.90 1992.41,209.68 1994.64,209.46 1996.87,209.25 1999.10,209.04 2001.33,208.84 2003.56,208.65 2005.79,208.46 2008.02,208.28 2010.25,208.10 2012.48,207.93 2014.71,207.76 2016.94,207.60 2019.17,207.44 2021.40,207.29 2023.63,207.14 2025.86,207.00 2028.09,206.86 2030.32,206.72 2032.55,206.59 2034.78,206.46 2037.02,206.34 2039.25,206.22 2041.48,206.10 2043.71,205.98 2045.94,205.87 2048.17,205.77 2050.40,205.66 2052.63,205.56 2054.86,205.46 2057.09,205.37 2059.32,205.28 2061.55,205.19 2063.78,205.10 2066.01,205.02 2068.24,204.93 2070.47,204.85 2072.70,204.78 2074.93,204.70 2077.16,204.63 2079.39,204.56 2081.62,204.49 2083.85,204.43 2086.08,204.36 2088.31,204.30 2090.54,204.24 2092.77,204.18 2095.00,204.12 2097.23,204.07 2099.46,204.01 2101.69,203.96 2103.92,203.91 2106.15,203.86 2108.38,203.81 2110.61,203.77 2112.84,203.72 2115.07,203.68 2117.30,203.64 2119.53,203.59 2121.76,203.55 2123.99,203.52" fill="none" stroke="#05be76" stroke-width="7.8" stroke-linejoin="round"/>
<polyline points="1454.95,719.86 1457.18,718.90 1459.41,717.91 1461.64,716.89 1463.87,715.86 1466.10,714.81 1468.33,713.73 1470.56,712.63 1472.79,711.51 1475.02,710.36 1477.25,709.19 1479.48,708.00 1481.71,706.78 1483.94,705.54 1486.17,704.27 1488.40,702.98 1490.63,701.66 1492.86,700.31 1495.09,698.94 1497.32,697.54 1499.55,696.11 1501.78,694.66 1504.01,693.18 1506.24,691.66 1508.47,690.12 1510.70,688.55 1512.93,686.96 1515.16,685.33 1517.39,683.67 1519.62,681.98 1521.85,680.26 1524.08,678.51 1526.31,676.73 1528.54,674.92 1530.77,673.07 1533.00,671.20 1535.24,669.29 1537.47,667.35 1539.70,665.38 1541.93,663.37 1544.16,661.33 1546.39,659.26 1548.62,657.15 1550.85,655.01 1553.08,652.84 1555.31,650.64 1557.54,648.40 1559.77,646.12 1562.00,643.82 1564.23,641.48 1566.46,639.10 1568.69,636.69 1570.92,634.25 1573.15,631.78 1575.38,629.27 1577.61,626.72 1579.84,624.15 1582.07,621.54 1584.30,618.90 1586.53,616.23 1588.76,613.52 1590.99,610.78 1593.22,608.01 1595.45,605.21 1597.68,602.38 1599.91,599.51 1602.14,596.62 1604.37,593.70 1606.60,590.74 1608.83,587.76 1611.06,584.75 1613.29,581.71 1615.52,578.65 1617.75,575.55 1619.98,572.44 1622.21,569.29 1624.44,566.12 1626.67,562.93 1628.90,559.72 1631.13,556.48 1633.36,553.22 1635.59,549.94 1637.82,546.64 1640.05,543.32 1642.28,539.99 1644.51,536.63 1646.74,533.26 1648.97,529.88 1651.20,526.48 1653.43,523.06 1655.66,519.64 1657.89,516.20 1660.12,512.75 1662.35,509.29 1664.58,505.83 1666.81,502.36 1669.04,498.88 1671.27,495.39 1673.50,491.90 1675.73,488.41 1677.96,484.92 1680.19,481.43 1682.42,477.94 1684.65,474.44 1686.88,470.96 1689.11,467.47 1691.34,463.99 1693.57,460.52 1695.80,457.05 1698.03,453.59 1700.26,450.14 1702.50,446.70 1704.73,443.27 1706.96,439.85 1709.19,436.45 1711.42,433.06 1713.65,429.69 1715.88,426.33 1718.11,422.99 1720.34,419.67 1722.57,416.36 1724.80,413.08 1727.03,409.81 1729.26,406.57 1731.49,403.35 1733.72,400.15 1735.95,396.98 1738.18,393.83 1740.41,390.71 1742.64,387.61 1744.87,384.54 1747.10,381.49 1749.33,378.48 1751.56,375.49 1753.79,372.53 1756.02,369.60 1758.25,366.70 1760.48,363.83 1762.71,360.99 1764.94,358.18 1767.17,355.40 1769.40,352.65 1771.63,349.94 1773.86,347.26 1776.09,344.61 1778.32,341.99 1780.55,339.41 1782.78,336.86 1785.01,334.34 1787.24,331.86 1789.47,329.41 1791.70,327.00 1793.93,324.61 1796.16,322.27 1798.39,319.95 1800.62,317.67 1802.85,315.42 1805.08,313.21 1807.31,311.03 1809.54,308.88 1811.77,306.77 1814.00,304.69 1816.23,302.64 1818.46,300.63 1820.69,298.65 1822.92,296.70 1825.15,294.78 1827.38,292.90 1829.61,291.05 1831.84,289.23 1834.07,287.44 1836.30,285.68 1838.53,283.96 1840.76,282.26 1842.99,280.60 1845.22,278.96 1847.45,277.36 1849.68,275.78 1851.91,274.23 1854.14,272.72 1856.37,271.23 1858.60,269.77 1860.83,268.33 1863.06,266.93 1865.29,265.55 1867.52,264.20 1869.76,262.87 1871.99,261.57 1874.22,260.30 1876.45,259.05 1878.68,257.82 1880.91,256.62 1883.14,255.45 1885.37,254.30 1887.60,253.17 1889.83,252.07 1892.06,250.98 1894.29,249.92 1896.52,248.89 1898.75,247.87 1900.98,246.88 1903.21,245.90 1905.44,244.95 1907.67,244.02 1909.90,243.11 1912.13,242.21 1914.36,241.34 1916.59,240.48 1918.82,239.65 1921.05,238.83 1923.28,238.03 1925.51,237.24 1927.74,236.48 1929.97,235.73 1932.20,234.99 1934.43,234.28 1936.66,233.58 1938.89,232.89 1941.12,232.22 1943.35,231.57 1945.58,230.93 1947.81,230.30 1950.04,229.69 1952.27,229.09 1954.50,228.51 1956.73,227.93 1958.96,227.38 1961.19,226.83 1963.42,226.30 1965.65,225.78 1967.88,225.27 1970.11,224.77 1972.34,224.28 1974.57,223.81 1976.80,223.35 1979.03,222.89 1981.26,222.45 1983.49,222.02 1985.72,221.60 1987.95,221.18 1990.18,220.78 1992.41,220.39 1994.64,220.00 1996.87,219.63 1999.10,219.26 2001.33,218.90 2003.56,218.55 2005.79,218.21 2008.02,217.88 2010.25,217.56 2012.48,217.24 2014.71,216.93 2016.94,216.62 2019.17,216.33 2021.40,216.04 2023.63,215.76 2025.86,215.48 2028.09,215.22 2030.32,214.95 2032.55,214.70 2034.78,214.45 2037.02,214.21 2039.25,213.97 2041.48,213.74 2043.71,213.51 2045.94,213.29 2048.17,213.07 2050.40,212.86 2052.63,212.66 2054.86,212.45 2057.09,212.26 2059.32,212.07 2061.55,211.88 2063.78,211.70 2066.01,211.52 2068.24,211.35 2070.47,211.18 2072.70,211.01 2074.93,210.85 2077.16,210.70 2079.39,210.54 2081.62,210.39 2083.85,210.25 2086.08,210.11 2088.31,209.97 2090.54,209.83 2092.77,209.70 2095.00,209.57 2097.23,209.44 2099.46,209.32 2101.69,209.20 2103.92,209.08 2106.15,208.97 2108.38,208.86 2110.61,208.75 2112.84,208.64 2115.07,208.54 2117.30,208.44 2119.53,208.34 2121.76,208.25 2123.99,208.15" fill="none" stroke="#fd3c46" stroke-width="7.8" stroke-linejoin="round"/>
<line x1="1405.80" y1="760.00" x2="2240.90" y2="760.00" stroke="#000" stroke-width="8.5" stroke-linecap="round" stroke-dasharray="16.5 25.22"/>
<rect x="1404.60" y="64.84" width="836.30" height="834.20" fill="none" stroke="#1e1e1e" stroke-width="8.0"/>
<line x1="1381.1" y1="64.84" x2="1404.6" y2="64.84" stroke="#1e1e1e" stroke-width="8.0"/>
<line x1="1381.1" y1="203.87" x2="1404.6" y2="203.87" stroke="#1e1e1e" stroke-width="8.0"/>
<line x1="1381.1" y1="342.90" x2="1404.6" y2="342.90" stroke="#1e1e1e" stroke-width="8.0"/>
<line x1="1381.1" y1="481.94" x2="1404.6" y2="481.94" stroke="#1e1e1e" stroke-width="8.0"/>
<line x1="1381.1" y1="620.97" x2="1404.6" y2="620.97" stroke="#1e1e1e" stroke-width="8.0"/>
<line x1="1381.1" y1="760.00" x2="1404.6" y2="760.00" stroke="#1e1e1e" stroke-width="8.0"/>
<line x1="1381.1" y1="899.03" x2="1404.6" y2="899.03" stroke="#1e1e1e" stroke-width="8.0"/>
<line x1="1404.60" y1="899.0" x2="1404.60" y2="922.6" stroke="#1e1e1e" stroke-width="7.6"/>
<line x1="1454.95" y1="899.0" x2="1454.95" y2="912.0" stroke="#1e1e1e" stroke-width="7"/>
<line x1="1484.40" y1="899.0" x2="1484.40" y2="912.0" stroke="#1e1e1e" stroke-width="7"/>
<line x1="1505.30" y1="899.0" x2="1505.30" y2="912.0" stroke="#1e1e1e" stroke-width="7"/>
<line x1="1521.51" y1="899.0" x2="1521.51" y2="912.0" stroke="#1e1e1e" stroke-width="7"/>
<line x1="1534.75" y1="899.0" x2="1534.75" y2="912.0" stroke="#1e1e1e" stroke-width="7"/>
<line x1="1545.95" y1="899.0" x2="1545.95" y2="912.0" stroke="#1e1e1e" stroke-width="7"/>
<line x1="1555.65" y1="899.0" x2="1555.65" y2="912.0" stroke="#1e1e1e" stroke-width="7"/>
<line x1="1564.21" y1="899.0" x2="1564.21" y2="912.0" stroke="#1e1e1e" stroke-width="7"/>
<line x1="1571.86" y1="899.0" x2="1571.86" y2="922.6" stroke="#1e1e1e" stroke-width="7.6"/>
<line x1="1622.21" y1="899.0" x2="1622.21" y2="912.0" stroke="#1e1e1e" stroke-width="7"/>
<line x1="1651.66" y1="899.0" x2="1651.66" y2="912.0" stroke="#1e1e1e" stroke-width="7"/>
<line x1="1672.56" y1="899.0" x2="1672.56" y2="912.0" stroke="#1e1e1e" stroke-width="7"/>
<line x1="1688.77" y1="899.0" x2="1688.77" y2="912.0" stroke="#1e1e1e" stroke-width="7"/>
<line x1="1702.01" y1="899.0" x2="1702.01" y2="912.0" stroke="#1e1e1e" stroke-width="7"/>
<line x1="1713.21" y1="899.0" x2="1713.21" y2="912.0" stroke="#1e1e1e" stroke-width="7"/>
<line x1="1722.91" y1="899.0" x2="1722.91" y2="912.0" stroke="#1e1e1e" stroke-width="7"/>
<line x1="1731.47" y1="899.0" x2="1731.47" y2="912.0" stroke="#1e1e1e" stroke-width="7"/>
<line x1="1739.12" y1="899.0" x2="1739.12" y2="922.6" stroke="#1e1e1e" stroke-width="7.6"/>
<line x1="1789.47" y1="899.0" x2="1789.47" y2="912.0" stroke="#1e1e1e" stroke-width="7"/>
<line x1="1818.92" y1="899.0" x2="1818.92" y2="912.0" stroke="#1e1e1e" stroke-width="7"/>
<line x1="1839.82" y1="899.0" x2="1839.82" y2="912.0" stroke="#1e1e1e" stroke-width="7"/>
<line x1="1856.03" y1="899.0" x2="1856.03" y2="912.0" stroke="#1e1e1e" stroke-width="7"/>
<line x1="1869.27" y1="899.0" x2="1869.27" y2="912.0" stroke="#1e1e1e" stroke-width="7"/>
<line x1="1880.47" y1="899.0" x2="1880.47" y2="912.0" stroke="#1e1e1e" stroke-width="7"/>
<line x1="1890.17" y1="899.0" x2="1890.17" y2="912.0" stroke="#1e1e1e" stroke-width="7"/>
<line x1="1898.73" y1="899.0" x2="1898.73" y2="912.0" stroke="#1e1e1e" stroke-width="7"/>
<line x1="1906.38" y1="899.0" x2="1906.38" y2="922.6" stroke="#1e1e1e" stroke-width="7.6"/>
<line x1="1956.73" y1="899.0" x2="1956.73" y2="912.0" stroke="#1e1e1e" stroke-width="7"/>
<line x1="1986.18" y1="899.0" x2="1986.18" y2="912.0" stroke="#1e1e1e" stroke-width="7"/>
<line x1="2007.08" y1="899.0" x2="2007.08" y2="912.0" stroke="#1e1e1e" stroke-width="7"/>
<line x1="2023.29" y1="899.0" x2="2023.29" y2="912.0" stroke="#1e1e1e" stroke-width="7"/>
<line x1="2036.53" y1="899.0" x2="2036.53" y2="912.0" stroke="#1e1e1e" stroke-width="7"/>
<line x1="2047.73" y1="899.0" x2="2047.73" y2="912.0" stroke="#1e1e1e" stroke-width="7"/>
<line x1="2057.43" y1="899.0" x2="2057.43" y2="912.0" stroke="#1e1e1e" stroke-width="7"/>
<line x1="2065.99" y1="899.0" x2="2065.99" y2="912.0" stroke="#1e1e1e" stroke-width="7"/>
<line x1="2073.64" y1="899.0" x2="2073.64" y2="922.6" stroke="#1e1e1e" stroke-width="7.6"/>
<line x1="2123.99" y1="899.0" x2="2123.99" y2="912.0" stroke="#1e1e1e" stroke-width="7"/>
<line x1="2153.44" y1="899.0" x2="2153.44" y2="912.0" stroke="#1e1e1e" stroke-width="7"/>
<line x1="2174.34" y1="899.0" x2="2174.34" y2="912.0" stroke="#1e1e1e" stroke-width="7"/>
<line x1="2190.55" y1="899.0" x2="2190.55" y2="912.0" stroke="#1e1e1e" stroke-width="7"/>
<line x1="2203.79" y1="899.0" x2="2203.79" y2="912.0" stroke="#1e1e1e" stroke-width="7"/>
<line x1="2214.99" y1="899.0" x2="2214.99" y2="912.0" stroke="#1e1e1e" stroke-width="7"/>
<line x1="2224.69" y1="899.0" x2="2224.69" y2="912.0" stroke="#1e1e1e" stroke-width="7"/>
<line x1="2233.25" y1="899.0" x2="2233.25" y2="912.0" stroke="#1e1e1e" stroke-width="7"/>
<line x1="2240.90" y1="899.0" x2="2240.90" y2="922.6" stroke="#1e1e1e" stroke-width="7.6"/>
<g transform="translate(1265.84 83.46) scale(1.0908 1)"><text font-size="57.75" font-weight="normal" stroke="#1a1a1a" stroke-width="2.60" stroke-linejoin="round">125</text>
<rect x="1.90" y="-7.21" width="11.07" height="9.71" fill="#fff"/>
<rect x="21.17" y="-7.21" width="10.62" height="9.71" fill="#fff"/>
</g>
<g transform="translate(1266.29 222.49) scale(1.0827 1)"><text font-size="57.75" font-weight="normal" stroke="#1a1a1a" stroke-width="2.60" stroke-linejoin="round">100</text>
<rect x="1.90" y="-7.21" width="11.07" height="9.71" fill="#fff"/>
<rect x="21.17" y="-7.21" width="10.62" height="9.71" fill="#fff"/>
</g>
<text transform="translate(1303.69 361.52) scale(1.0294 1)" font-size="58.57" font-weight="normal" stroke="#1a1a1a" stroke-width="2.60" stroke-linejoin="round">75</text>
<text transform="translate(1305.05 500.56) scale(1.0173 1)" font-size="57.75" font-weight="normal" stroke="#1a1a1a" stroke-width="2.60" stroke-linejoin="round">50</text>
<text transform="translate(1303.27 639.59) scale(1.0509 1)" font-size="57.75" font-weight="normal" stroke="#1a1a1a" stroke-width="2.60" stroke-linejoin="round">25</text>
<text transform="translate(1340.66 778.62) scale(0.9260 1)" font-size="57.75" font-weight="normal" stroke="#1a1a1a" stroke-width="2.60" stroke-linejoin="round">0</text>
<text transform="translate(1266.73 917.66) scale(1.0617 1)" font-size="57.75" font-weight="normal" stroke="#1a1a1a" stroke-width="2.60" stroke-linejoin="round">−25</text>
<g transform="translate(1348.61 990.31) scale(1.0370 1)"><text font-size="59.01" font-weight="normal" stroke="#1a1a1a" stroke-width="2.60" stroke-linejoin="round">10</text>
<rect x="2.00" y="-7.31" width="11.30" height="9.81" fill="#fff"/>
<rect x="21.60" y="-7.31" width="10.83" height="9.81" fill="#fff"/>
</g>
<text transform="translate(1425.26 971.50) scale(0.9454 1)" font-size="41.00" font-weight="normal" stroke="#1a1a1a" stroke-width="1.60" stroke-linejoin="round">−</text>
<text transform="translate(1451.20 970.50) scale(0.8760 1)" font-size="40.87" font-weight="normal" stroke="#1a1a1a" stroke-width="2.00" stroke-linejoin="round">4</text>
<g transform="translate(1515.87 990.31) scale(1.0370 1)"><text font-size="59.01" font-weight="normal" stroke="#1a1a1a" stroke-width="2.60" stroke-linejoin="round">10</text>
<rect x="2.00" y="-7.31" width="11.30" height="9.81" fill="#fff"/>
<rect x="21.60" y="-7.31" width="10.83" height="9.81" fill="#fff"/>
</g>
<text transform="translate(1592.52 971.50) scale(0.9454 1)" font-size="41.00" font-weight="normal" stroke="#1a1a1a" stroke-width="1.60" stroke-linejoin="round">−</text>
<text transform="translate(1618.84 970.10) scale(0.9589 1)" font-size="39.72" font-weight="normal" stroke="#1a1a1a" stroke-width="2.00" stroke-linejoin="round">3</text>
<g transform="translate(1683.13 990.31) scale(1.0370 1)"><text font-size="59.01" font-weight="normal" stroke="#1a1a1a" stroke-width="2.60" stroke-linejoin="round">10</text>
<rect x="2.00" y="-7.31" width="11.30" height="9.81" fill="#fff"/>
<rect x="21.60" y="-7.31" width="10.83" height="9.81" fill="#fff"/>
</g>
<text transform="translate(1759.78 971.50) scale(0.9454 1)" font-size="41.00" font-weight="normal" stroke="#1a1a1a" stroke-width="1.60" stroke-linejoin="round">−</text>
<text transform="translate(1784.33 970.50) scale(1.0366 1)" font-size="40.29" font-weight="normal" stroke="#1a1a1a" stroke-width="2.00" stroke-linejoin="round">2</text>
<g transform="translate(1850.39 990.31) scale(1.0370 1)"><text font-size="59.01" font-weight="normal" stroke="#1a1a1a" stroke-width="2.60" stroke-linejoin="round">10</text>
<rect x="2.00" y="-7.31" width="11.30" height="9.81" fill="#fff"/>
<rect x="21.60" y="-7.31" width="10.83" height="9.81" fill="#fff"/>
</g>
<text transform="translate(1927.04 971.50) scale(0.9454 1)" font-size="41.00" font-weight="normal" stroke="#1a1a1a" stroke-width="1.60" stroke-linejoin="round">−</text>
<g transform="translate(1951.28 970.50) scale(1.1451 1)"><text font-size="40.87" font-weight="normal" stroke="#1a1a1a" stroke-width="2.00" stroke-linejoin="round">1</text>
<rect x="0.91" y="-5.65" width="8.11" height="7.85" fill="#fff"/>
<rect x="15.14" y="-5.65" width="7.80" height="7.85" fill="#fff"/>
</g>
<g transform="translate(2024.15 990.31) scale(1.0370 1)"><text font-size="59.01" font-weight="normal" stroke="#1a1a1a" stroke-width="2.60" stroke-linejoin="round">10</text>
<rect x="2.00" y="-7.31" width="11.30" height="9.81" fill="#fff"/>
<rect x="21.60" y="-7.31" width="10.83" height="9.81" fill="#fff"/>
</g>
<text transform="translate(2101.41 970.10) scale(0.9647 1)" font-size="39.72" font-weight="normal" stroke="#1a1a1a" stroke-width="2.00" stroke-linejoin="round">0</text>
<g transform="translate(2192.81 990.31) scale(1.0370 1)"><text font-size="59.01" font-weight="normal" stroke="#1a1a1a" stroke-width="2.60" stroke-linejoin="round">10</text>
<rect x="2.00" y="-7.31" width="11.30" height="9.81" fill="#fff"/>
<rect x="21.60" y="-7.31" width="10.83" height="9.81" fill="#fff"/>
</g>
<g transform="translate(2268.24 970.50) scale(1.1350 1)"><text font-size="40.87" font-weight="normal" stroke="#1a1a1a" stroke-width="2.00" stroke-linejoin="round">1</text>
<rect x="0.91" y="-5.65" width="8.11" height="7.85" fill="#fff"/>
<rect x="15.14" y="-5.65" width="7.80" height="7.85" fill="#fff"/>
</g>
<text transform="translate(1463.13 1112.00) scale(0.9900 1)" font-size="70.00" font-weight="bold">Concentration [µg/ml]</text>
<text transform="translate(83.50 700.19) rotate(-90) scale(0.9873 1)" font-size="70" font-weight="bold">Inhibition [%]</text>
<text transform="translate(1235.00 700.19) rotate(-90) scale(0.9873 1)" font-size="70" font-weight="bold">Inhibition [%]</text>
<text transform="translate(273.59 137.11) scale(1.0355 1)" font-size="59.30" font-weight="normal" stroke="#1a1a1a" stroke-width="2.60" stroke-linejoin="round">BD55-4637</text>
<g transform="translate(1424.47 137.10) scale(1.0245 1)"><text font-size="60.14" font-weight="normal" stroke="#1a1a1a" stroke-width="2.60" stroke-linejoin="round">BD55-5514</text>
<rect x="239.45" y="-7.39" width="11.49" height="9.89" fill="#fff"/>
<rect x="259.36" y="-7.39" width="11.02" height="9.89" fill="#fff"/>
</g>
<line x1="1849.5" y1="506.6" x2="1940" y2="506.6" stroke="#05be76" stroke-width="8"/>
<circle cx="1894.8" cy="506.6" r="17.3" fill="#05be76"/>
<g transform="translate(1990.38 525.24) scale(1.0924 1)"><text font-size="56.29" font-weight="normal" stroke="#1a1a1a" stroke-width="2.00" stroke-linejoin="round">JN.1</text>
<rect x="86.52" y="-6.80" width="10.82" height="9.00" fill="#fff"/>
<rect x="104.80" y="-6.80" width="10.38" height="9.00" fill="#fff"/>
</g>
<line x1="1849.5" y1="602.9" x2="1940" y2="602.9" stroke="#119ab6" stroke-width="8"/>
<rect x="1878.0" y="585.6" width="34.5" height="34.5" fill="#119ab6"/>
<g transform="translate(1989.98 622.05) scale(1.1317 1)"><text font-size="55.49" font-weight="normal" stroke="#1a1a1a" stroke-width="2.00" stroke-linejoin="round">KP.3.1.1</text>
<rect x="130.60" y="-6.75" width="10.68" height="8.95" fill="#fff"/>
<rect x="148.68" y="-6.75" width="10.25" height="8.95" fill="#fff"/>
<rect x="176.88" y="-6.75" width="10.68" height="8.95" fill="#fff"/>
<rect x="194.96" y="-6.75" width="10.25" height="8.95" fill="#fff"/>
</g>
<line x1="1849.5" y1="698.8" x2="1940" y2="698.8" stroke="#fd3c46" stroke-width="8"/>
<polygon points="1895.4,682.5 1878.4,715.3 1912.4,715.3" fill="#fd3c46"/>
<text transform="translate(1990.23 717.24) scale(0.9680 1)" font-size="56.48" font-weight="normal" stroke="#1a1a1a" stroke-width="2.00" stroke-linejoin="round">XEC</text>
</svg></div></body></html>
